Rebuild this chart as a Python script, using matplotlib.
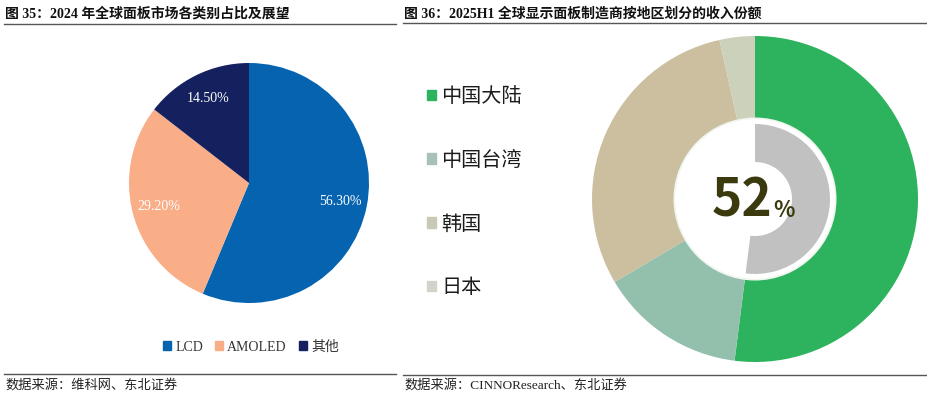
import matplotlib

matplotlib.use('Agg')
import matplotlib.pyplot as plt
from matplotlib.patches import Rectangle, Circle
from matplotlib.lines import Line2D

plt.rcParams['font.family'] = ['Liberation Serif', 'Noto Sans CJK SC']

# left chart: 2024 global panel market share by type
panel_types = ['LCD', 'AMOLED', '其他']
panel_share = [56.3, 29.2, 14.5]
panel_colors = ['#0563b0', '#f9ae87', '#14215e']

# right chart: 2025H1 revenue share of display panel makers by region
regions = ['中国大陆', '中国台湾', '韩国', '日本']
region_share = [52.0, 14.5, 30.0, 3.5]
region_colors = ['#2db35e', '#93bfad', '#cbbfa0', '#cbd1bb']
legend_colors = ['#2db35e', '#a7c0ba', '#c9c9b5', '#d2d3ca']
mainland_share = 52

W, H = 928, 396
fig = plt.figure(figsize=(W / 100, H / 100), dpi=100)


def px_axes(left, top, width, height):
    return fig.add_axes([left / W, 1 - (top + height) / H, width / W, height / H])


# ---- left pie
ax1 = px_axes(129, 63, 240, 240)
ax1.pie(panel_share, colors=panel_colors, startangle=90, counterclock=False,
        autopct='%.2f%%', pctdistance=0.78,
        wedgeprops=dict(linewidth=0),
        textprops=dict(color='white', fontsize=10, family='Liberation Serif'))
ax1.set_xlim(-1, 1)
ax1.set_ylim(-1, 1)
ax1.set_aspect('equal')
ax1.axis('off')

handles1 = [Rectangle((0, 0), 1, 1, color=c) for c in panel_colors]
fig.legend(handles1, panel_types, loc='center', bbox_to_anchor=(251 / W, 1 - 347 / H),
           ncol=3, frameon=False, fontsize=10, handlelength=0.55, handleheight=0.55,
           handletextpad=0.3, columnspacing=0.9, labelcolor='#333333')

# ---- right donut
ax2 = px_axes(592, 36, 326, 326)
ax2.pie(region_share, colors=region_colors, startangle=90, counterclock=False,
        radius=1.0, wedgeprops=dict(width=0.51, linewidth=0))
ax2.add_patch(Circle((0, 0), 0.495, facecolor='white', edgecolor='#eef6ee', linewidth=1.2))
ax2.pie([mainland_share, 100 - mainland_share], colors=['#c1c1c1', 'none'],
        startangle=90, counterclock=False, radius=0.46,
        wedgeprops=dict(width=0.233, linewidth=0))
ax2.text(0.105, -0.11, str(mainland_share), ha='right', va='baseline', fontsize=37,
         fontweight='bold', color='#3a3a0e', family='Noto Sans CJK SC')
ax2.text(0.11, -0.11, '%', ha='left', va='baseline', fontsize=16,
         fontweight='bold', color='#3a3a0e', family='Noto Sans CJK SC')
ax2.set_xlim(-1, 1)
ax2.set_ylim(-1, 1)
ax2.set_aspect('equal')
ax2.axis('off')

handles2 = [Rectangle((0, 0), 1, 1, color=c) for c in legend_colors]
fig.legend(handles2, regions, loc='upper left', bbox_to_anchor=(409 / W, 1 - 68 / H),
           frameon=False, handlelength=0.45, handleheight=0.45, handletextpad=0.25,
           labelspacing=2.12, prop=dict(family='Noto Sans CJK SC', size=14.5, weight='medium'),
           labelcolor='#1c1c1c')

# ---- titles, rules and sources
title_font = dict(fontsize=10, fontweight='bold', color='#111111', va='center')
fig.text(5 / W, 1 - 14 / H, '图 35：2024 年全球面板市场各类别占比及展望', **title_font)
fig.text(404 / W, 1 - 14 / H, '图 36：2025H1 全球显示面板制造商按地区划分的收入份额', **title_font)

for x0, x1, y in [(4, 396, 24), (403, 928, 23), (4, 396, 374), (403, 928, 375)]:
    fig.add_artist(Line2D([x0 / W, x1 / W], [1 - y / H, 1 - y / H], color='#555555', linewidth=1.0))

src_font = dict(fontsize=9.5, color='#222222', va='center')
fig.text(5 / W, 1 - 385 / H, '数据来源：维科网、东北证券', **src_font)
fig.text(404 / W, 1 - 385 / H, '数据来源：CINNOResearch、东北证券', **src_font)

fig.savefig('out.png', dpi=100, facecolor='white')
